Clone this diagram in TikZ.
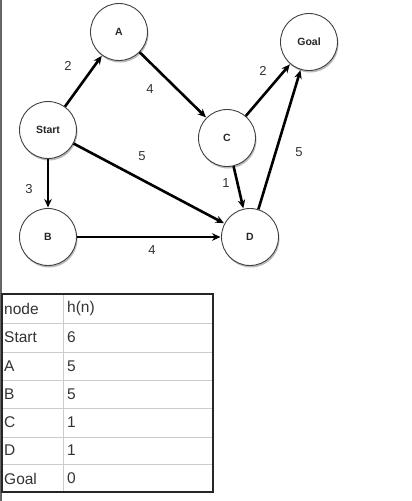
\documentclass[tikz,border=0pt]{standalone}
\usepackage{fontspec}
\setmainfont{Liberation Sans}
\usetikzlibrary{arrows.meta,shadows}
\tikzset{
  gnode/.style={circle,draw=black!75,line width=0.9pt,fill=white,minimum size=57pt,inner sep=0pt,
    font=\fontsize{10.5}{12}\selectfont\bfseries,text=black!85,
    drop shadow={shadow xshift=1pt,shadow yshift=-2pt,opacity=0.45,fill=black!60}},
  edge/.style={line width=2.6pt,-{Stealth[length=8.5pt,width=7.5pt]},black,shorten >=0.5pt},
  elab/.style={font=\fontsize{13}{15}\selectfont,text=black!80,inner sep=0pt},
  tcell/.style={font=\fontsize{15.5}{18}\selectfont,text=black!80,anchor=west,inner sep=0pt},
}
\begin{document}
\begin{tikzpicture}[x=1pt,y=-1pt]
\useasboundingbox (0,0) rectangle (412,501);
\fill[white] (0,0) rectangle (412,501);
% left gray line
\draw[black!60,line width=1.5pt] (0.75,0) -- (0.75,501);
% nodes
\node[gnode] (A) at (119,32) {A};
\node[gnode] (G) at (309,42) {Goal};
\node[gnode] (S) at (48,130) {Start};
\node[gnode] (C) at (227,138) {C};
\node[gnode] (B) at (48,237) {B};
\node[gnode] (D) at (250,237) {D};
% edges
\draw[edge] (S) -- (A);
\draw[edge] (A) -- (C);
\draw[edge] (C) -- (G);
\draw[edge] (S) -- (D);
\draw[edge] (S) -- (B);
\draw[edge] (C) -- (D);
\draw[edge] (D) -- (G);
\draw[edge] (B) -- (D);
% labels
\node[elab] (l1) at (68,66) {2};
\node[elab] (l2) at (150,89) {4};
\node[elab] (l3) at (263,71) {2};
\node[elab] (l4) at (142,156) {5};
\node[elab] (l5) at (299,152) {5};
\node[elab] (l6) at (29,189) {3};
\node[elab] (l7) at (226,183) {1};
\node[elab] (l8) at (152,250) {4};
% table
\foreach \y in {323,352,380,408,437,464} \draw[black!20,line width=1pt] (2,\y) -- (213,\y);
\draw[black!20,line width=1pt] (63,294) -- (63,492);
\draw[black!85,line width=1.3pt] (2,294) rectangle (213,492);
\node[tcell] (t1a) at (4,308.5) {node};
\node[tcell] (t1b) at (67,308.5) {h(n)};
\node[tcell] (t2a) at (4,337.5) {Start};
\node[tcell] (t2b) at (67,337.5) {6};
\node[tcell] (t3a) at (4,366) {A};
\node[tcell] (t3b) at (67,366) {5};
\node[tcell] (t4a) at (4,394) {B};
\node[tcell] (t4b) at (67,394) {5};
\node[tcell] (t5a) at (4,422.5) {C};
\node[tcell] (t5b) at (67,422.5) {1};
\node[tcell] (t6a) at (4,450.5) {D};
\node[tcell] (t6b) at (67,450.5) {1};
\node[tcell] (t7a) at (4,478.5) {Goal};
\node[tcell] (t7b) at (67,478.5) {0};
\end{tikzpicture}
\end{document}
